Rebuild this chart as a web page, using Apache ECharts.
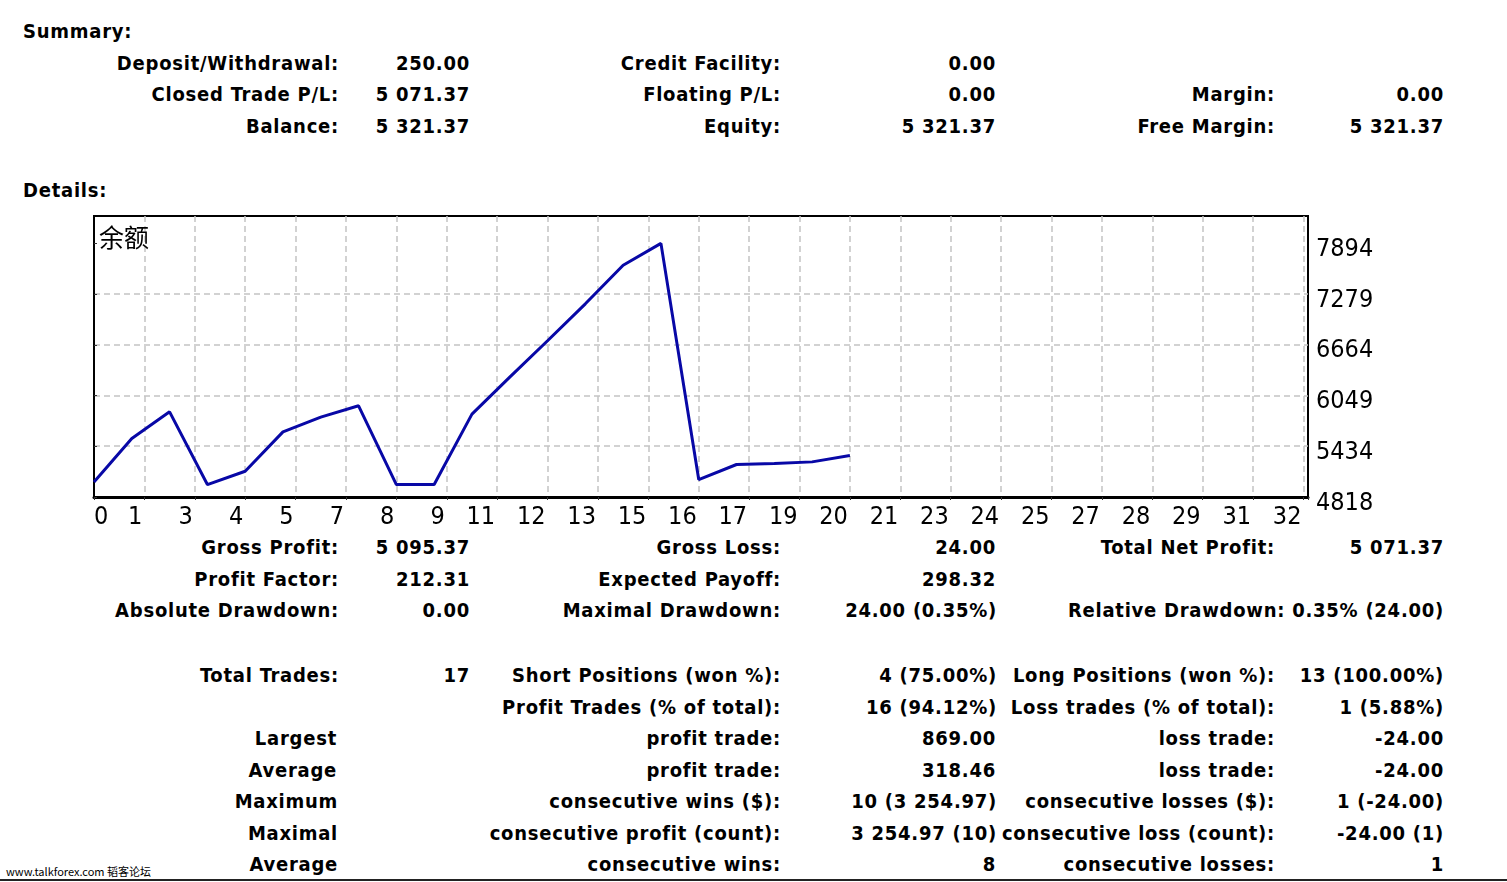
<!DOCTYPE html>
<html>
<head>
<meta charset="utf-8">
<script src="https://cdn.jsdelivr.net/npm/echarts@6/dist/echarts.min.js"></script>
<style>
  html, body { margin: 0; padding: 0; background: #fff; }
  body { width: 1507px; height: 882px; position: relative; overflow: hidden; }
  .t { position: absolute; white-space: nowrap; transform: translateY(-50%);
       font-family: 'DejaVu Sans Condensed', 'Liberation Sans Narrow', 'DejaVu Sans', sans-serif;
       font-weight: bold; font-size: 20px; line-height: 24px; letter-spacing: 0.75px; color: #000; }
  #chart { position: absolute; left: 0; top: 205px; width: 1507px; height: 322px; }
  #wm { position: absolute; left: 6px; top: 864px; font-family: 'Noto Sans CJK SC', 'DejaVu Sans', sans-serif;
        font-size: 11px; line-height: 14px; color: #000; white-space: nowrap; }
  #bl { position: absolute; left: 0; top: 879px; width: 1507px; height: 2px; background: #222; }
</style>
</head>
<body>
<div id="report"></div>
<div id="chart"></div>
<div id="wm">www.talkforex.com 韬客论坛</div>
<div id="bl"></div>
<script>
// ---- chart data ----
const tradeIndex = [0, 1, 2, 3, 4, 5, 6, 7, 8, 9, 10, 11, 12, 13, 14, 15, 16, 17, 18, 19, 20];
const balance = [5000, 5528, 5851, 4969, 5130, 5608, 5787, 5924, 4969, 4969, 5823, 6271, 6713, 7161, 7629, 7894, 5030, 5212, 5224, 5244, 5321];
const xTickLabels = ['0','1','3','4','5','7','8','9','11','12','13','15','16','17','19','20','21','23','24','25','27','28','29','31','32'];
const yTickLabels = [4818, 5434, 6049, 6664, 7279, 7894];
const chartTitle = '余额';

// ---- report text (y centre, [xRightEdge, text] or [xLeft, text, 'l']) ----
const reportRows = [
  [31, [[23, 'Summary:', 'l']]],
  [63, [[338, 'Deposit/Withdrawal:'], [469, '250.00'], [780, 'Credit Facility:'], [995, '0.00']]],
  [94, [[338, 'Closed Trade P/L:'], [469, '5 071.37'], [780, 'Floating P/L:'], [995, '0.00'], [1274, 'Margin:'], [1443, '0.00']]],
  [126, [[338, 'Balance:'], [469, '5 321.37'], [780, 'Equity:'], [995, '5 321.37'], [1274, 'Free Margin:'], [1443, '5 321.37']]],
  [190, [[23, 'Details:', 'l']]],
  [547, [[338, 'Gross Profit:'], [469, '5 095.37'], [780, 'Gross Loss:'], [995, '24.00'], [1274, 'Total Net Profit:'], [1443, '5 071.37']]],
  [579, [[338, 'Profit Factor:'], [469, '212.31'], [780, 'Expected Payoff:'], [995, '298.32']]],
  [610, [[338, 'Absolute Drawdown:'], [469, '0.00'], [780, 'Maximal Drawdown:'], [996, '24.00 (0.35%)'], [1443, 'Relative Drawdown: 0.35% (24.00)']]],
  [675, [[338, 'Total Trades:'], [469, '17'], [780, 'Short Positions (won %):'], [996, '4 (75.00%)'], [1274, 'Long Positions (won %):'], [1443, '13 (100.00%)']]],
  [707, [[780, 'Profit Trades (% of total):'], [996, '16 (94.12%)'], [1274, 'Loss trades (% of total):'], [1443, '1 (5.88%)']]],
  [738, [[336, 'Largest'], [780, 'profit trade:'], [995, '869.00'], [1274, 'loss trade:'], [1443, '-24.00']]],
  [770, [[336, 'Average'], [780, 'profit trade:'], [995, '318.46'], [1274, 'loss trade:'], [1443, '-24.00']]],
  [801, [[337, 'Maximum'], [780, 'consecutive wins ($):'], [996, '10 (3 254.97)'], [1274, 'consecutive losses ($):'], [1443, '1 (-24.00)']]],
  [833, [[337, 'Maximal'], [780, 'consecutive profit (count):'], [996, '3 254.97 (10)'], [1274, 'consecutive loss (count):'], [1443, '-24.00 (1)']]],
  [864, [[337, 'Average'], [780, 'consecutive wins:'], [995, '8'], [1274, 'consecutive losses:'], [1443, '1']]]
];

const rep = document.getElementById('report');
reportRows.forEach(([y, cells]) => {
  cells.forEach(([x, text, mode]) => {
    const d = document.createElement('div');
    d.className = 't';
    d.textContent = text;
    d.style.top = y + 'px';
    if (mode === 'l') d.style.left = x + 'px';
    else d.style.right = (1507 - x - 1) + 'px';
    rep.appendChild(d);
  });
});

const axisFont = "'DejaVu Sans Condensed', 'Liberation Sans Narrow', 'DejaVu Sans', sans-serif";
const chart = echarts.init(document.getElementById('chart'), null, { renderer: 'canvas' });
chart.setOption({
  backgroundColor: 'transparent',
  animation: false,
  title: {
    text: chartTitle, left: 94, top: 15,
    textStyle: { fontFamily: "'Noto Sans CJK SC', sans-serif", fontSize: 25, fontWeight: 'normal', color: '#000' }
  },
  grid: {
    left: 94, right: 199, top: 11, bottom: 30,
    show: true, borderColor: '#000', borderWidth: 2, backgroundColor: '#fff',
    containLabel: false, outerBoundsMode: 'none'
  },
  xAxis: {
    type: 'value', min: 0, max: 32.12, interval: 4 / 3,
    axisLine: { show: true, onZero: false, lineStyle: { color: '#000', width: 3 } },
    axisTick: { show: true, length: 3, lineStyle: { color: '#333', width: 1 } },
    splitLine: { show: true, showMinLine: false, showMaxLine: false, lineStyle: { color: '#c4c4c4', width: 1.5, type: [6, 4] } },
    axisLabel: {
      show: true, margin: 8, align: 'right', padding: [0, 2, 0, 0],
      alignMinLabel: 'left', showMinLabel: true, showMaxLabel: true,
      fontFamily: axisFont, fontSize: 25, color: '#000',
      formatter: (v, i) => (xTickLabels[i] !== undefined ? xTickLabels[i] : '')
    }
  },
  yAxis: {
    type: 'value', position: 'right', min: 4818, max: 8226, scale: true,
    axisLine: { show: true, lineStyle: { color: '#000', width: 2 } },
    axisTick: { show: true, length: 3, customValues: yTickLabels, lineStyle: { color: '#333', width: 1 } },
    splitLine: { show: true, showMinLine: false, showMaxLine: false, lineStyle: { color: '#c4c4c4', width: 1.5, type: [6, 4] } },
    axisLabel: {
      show: true, margin: 8, customValues: yTickLabels,
      verticalAlign: 'top', lineHeight: 12,
      fontFamily: axisFont, fontSize: 25, color: '#000',
      formatter: (v) => String(v)
    }
  },
  series: [{
    type: 'line',
    data: tradeIndex.map((x, i) => [x, balance[i]]),
    showSymbol: false,
    lineStyle: { color: '#0808a6', width: 3 },
    itemStyle: { color: '#0808a6' },
    clip: true
  }]
});
</script>
</body>
</html>
